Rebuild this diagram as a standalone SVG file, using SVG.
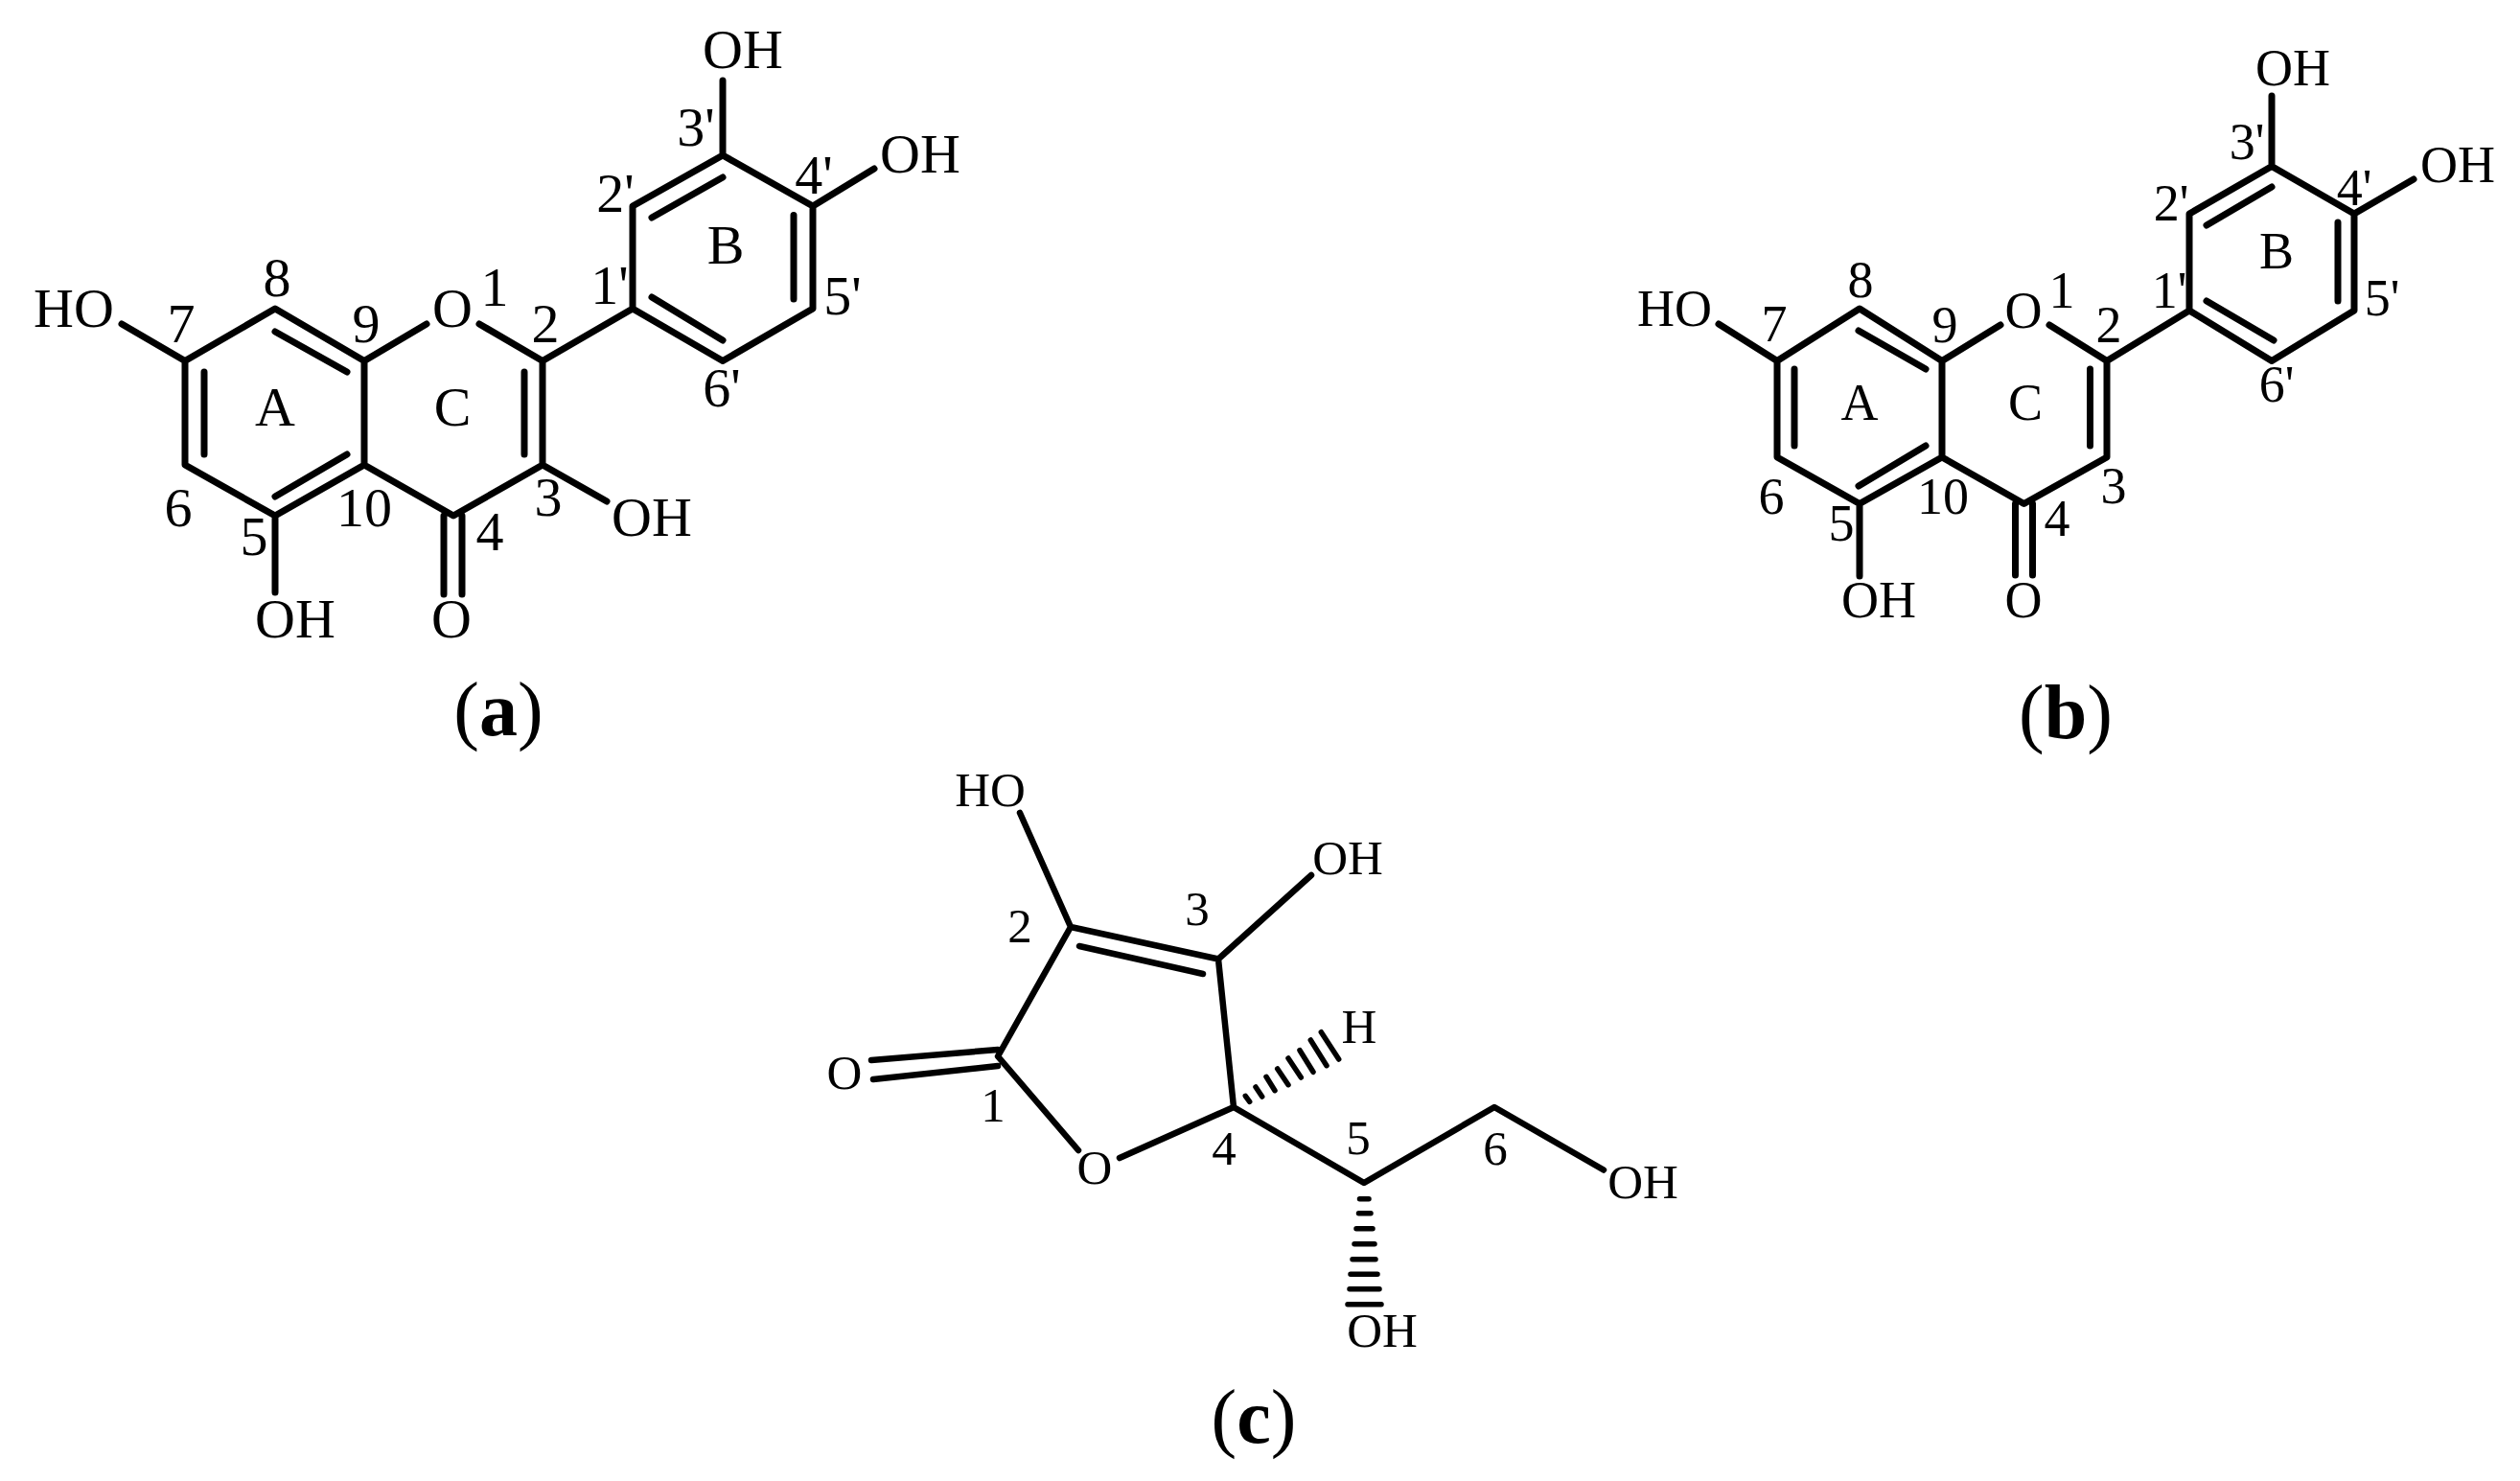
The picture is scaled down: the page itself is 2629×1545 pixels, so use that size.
<svg xmlns="http://www.w3.org/2000/svg" width="2629" height="1545" viewBox="0 0 2629 1545">
<style>
.b{fill:none;stroke:#000;stroke-width:7;stroke-linecap:round;stroke-linejoin:round}
.c{fill:none;stroke:#000;stroke-width:6.5;stroke-linecap:round;stroke-linejoin:round}
.h{fill:none;stroke:#000;stroke-width:5.5;stroke-linecap:round}
text{font-family:"Liberation Serif","Times New Roman",serif;fill:#000;text-anchor:middle}
.ta text{font-size:58px}
.tb text{font-size:54px}
.tc text{font-size:51px}
.cap{font-size:80px}
.cap tspan{font-weight:bold}
</style>
<rect width="2629" height="1545" fill="#fff"/>
<g id="molecule-a">
<g id="bonds-a" class="b">
<path d="M445 338L380 376.500L287 322L193 376.500V485L287 538L380 485V376.500M380 485L473 538L566 485V376.500L500 338M566 376.500L660 322V215L754 162L848 215V322L754 376.500L660 322M754 162V84M848 215L912 176M193 376.500L127 338M566 485L633 523M287 538V618M463 538V620M482 538V620"/>
<path d="M213 388V474M287 346L362 388M362 474L287 518M547 388V474M680 227L754 185M828 224.500V312M680 310L754 355"/>
</g>
<g id="labels-a" class="ta">
<text x="775" y="71">OH</text><text x="726" y="152">3'</text><text x="960" y="180">OH</text><text x="849" y="202">4'</text><text x="642" y="221">2'</text><text x="757" y="275">B</text><text x="289" y="309">8</text><text x="516" y="319">1</text><text x="636" y="317">1'</text><text x="879" y="328">5'</text><text x="77" y="341">HO</text><text x="189" y="357">7</text><text x="382" y="357">9</text><text x="472" y="341">O</text><text x="569" y="357">2</text><text x="287" y="444">A</text><text x="472" y="444">C</text><text x="753" y="424">6'</text><text x="186" y="549">6</text><text x="380" y="549">10</text><text x="572" y="538">3</text><text x="680" y="559">OH</text><text x="265" y="579">5</text><text x="511" y="574">4</text><text x="308" y="665">OH</text><text x="471" y="665">O</text>
</g>
<text id="caption-a" class="cap" x="520" y="767">(<tspan>a</tspan>)</text>
</g>
<g id="molecule-b">
<g id="bonds-b" class="b">
<path d="M2087 339L2026 376.500L1940 322L1854 376.500V477L1940 525.500L2026 477V376.500M2026 477L2111.500 525.500L2198 477V376.500L2138 339M2198 376.500L2284 324V223L2370 173.500L2456 223V324L2370 376.500L2284 324M2370 173.500V100M2456 223L2518 187M1854 376.500L1793 338M1940 525.500V601M2102.500 525.500V600M2120.500 525.500V600"/>
<path d="M1872 385V465M1939 345L2009 385M2009 465L1939 507M2180.500 385V465M2302 235L2370 195M2439 232V314M2302 314L2372 355"/>
</g>
<g id="labels-b" class="tb">
<text x="2392" y="89">OH</text><text x="2344" y="166">3'</text><text x="2564" y="190">OH</text><text x="2456" y="214">4'</text><text x="2265" y="230">2'</text><text x="2375" y="280">B</text><text x="1941" y="310">8</text><text x="2151" y="321">1</text><text x="2263" y="321">1'</text><text x="2485" y="329">5'</text><text x="1747" y="340">HO</text><text x="1851" y="356">7</text><text x="2029" y="357">9</text><text x="2111" y="342">O</text><text x="2200" y="357">2</text><text x="1940" y="438">A</text><text x="2113" y="438">C</text><text x="2375" y="419">6'</text><text x="1848" y="536">6</text><text x="2027" y="536">10</text><text x="2205" y="525">3</text><text x="1921" y="564">5</text><text x="2146" y="559">4</text><text x="1960" y="644">OH</text><text x="2111" y="644">O</text>
</g>
<text id="caption-b" class="cap" x="2155" y="770">(<tspan>b</tspan>)</text>
</g>
<g id="molecule-c">
<g id="bonds-c" class="c">
<path d="M1125 1200L1041 1102L1117 967L1271 1000.500L1287 1155L1168 1208M1287 1155L1423 1234L1559 1155L1673 1220.500M1117 967L1064 848M1271 1000.500L1368 913M1126 987L1255 1016M909 1106L1041 1095M911 1126L1041 1112"/>
</g>
<g id="hash-c" class="h">
<path d="M1299.300 1143.300L1303.700 1149.300M1310 1134L1316.700 1144M1321 1123.300L1330 1137.700M1332.700 1115L1344 1131.700M1344 1104L1357.300 1124M1356 1095.700L1370 1118.300M1367.300 1085L1384 1111.700M1378.300 1076.700L1396.700 1105"/>
<path d="M1418.500 1250.700H1428M1417.500 1265.700H1430M1415 1281.700H1432M1413 1297.700H1434M1411 1313.700H1435M1409 1329.300H1437M1408 1344.700H1439M1406 1360.700H1441"/>
</g>
<g id="labels-c" class="tc">
<text x="1033" y="841">HO</text><text x="1406" y="912">OH</text><text x="1249" y="965">3</text><text x="1064" y="983">2</text><text x="1418" y="1088">H</text><text x="881" y="1136">O</text><text x="1036" y="1170">1</text><text x="1142" y="1235">O</text><text x="1277" y="1215">4</text><text x="1417" y="1204">5</text><text x="1560" y="1215">6</text><text x="1714" y="1250">OH</text><text x="1442" y="1405">OH</text>
</g>
<text id="caption-c" class="cap" x="1308" y="1505">(<tspan>c</tspan>)</text>
</g>
</svg>
